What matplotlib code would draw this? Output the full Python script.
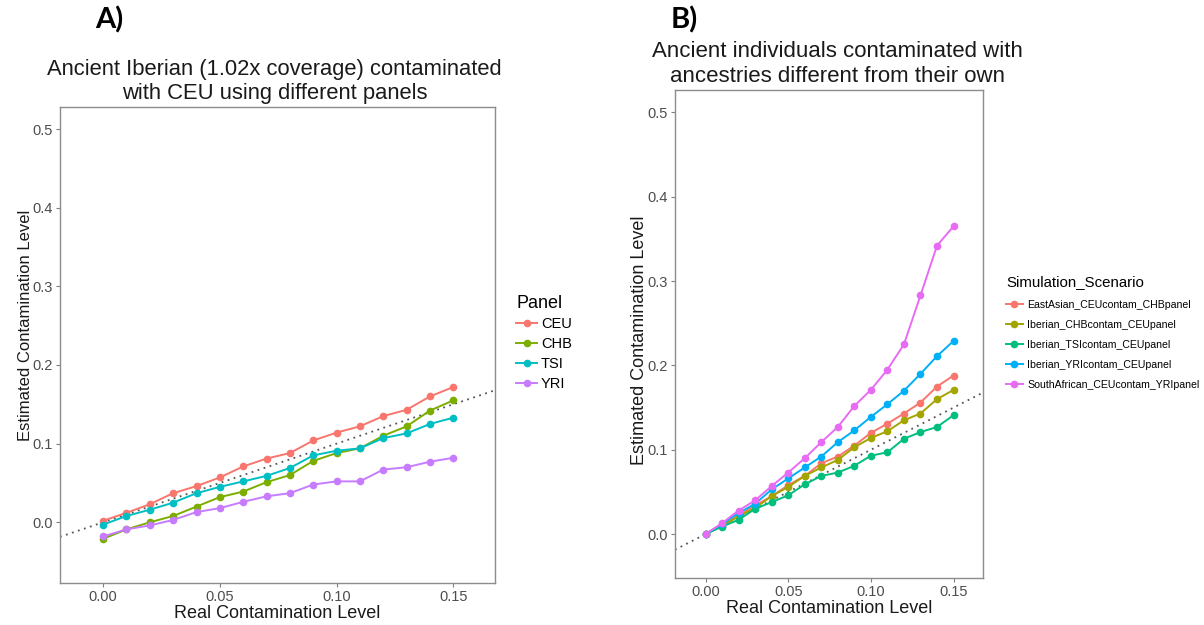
import matplotlib
matplotlib.use("Agg")
import matplotlib.pyplot as plt

plt.rcParams["font.family"] = ["Liberation Sans", "DejaVu Sans"]

# --- data ---
real = [0.00, 0.01, 0.02, 0.03, 0.04, 0.05, 0.06, 0.07,
        0.08, 0.09, 0.10, 0.11, 0.12, 0.13, 0.14, 0.15]

# panel A: Iberian contaminated with CEU, different panels
panel_names = ["CEU", "CHB", "TSI", "YRI"]
ceu = [0.002, 0.012, 0.023, 0.037, 0.046, 0.057, 0.071, 0.081,
       0.088, 0.104, 0.114, 0.122, 0.135, 0.143, 0.160, 0.172]
chb = [-0.021, -0.009, 0.000, 0.008, 0.020, 0.032, 0.039, 0.051,
       0.060, 0.078, 0.088, 0.094, 0.110, 0.122, 0.142, 0.155]
tsi = [-0.003, 0.008, 0.016, 0.025, 0.037, 0.045, 0.052, 0.059,
       0.069, 0.085, 0.091, 0.094, 0.107, 0.113, 0.125, 0.133]
yri = [-0.018, -0.009, -0.004, 0.003, 0.013, 0.018, 0.026, 0.033,
       0.037, 0.048, 0.052, 0.052, 0.067, 0.070, 0.077, 0.082]
panel_vals = [ceu, chb, tsi, yri]
panel_cols = ["#F8766D", "#7CAE00", "#00BFC4", "#C77CFF"]

# panel B: different ancestries
scen_names = ["EastAsian_CEUcontam_CHBpanel", "Iberian_CHBcontam_CEUpanel",
              "Iberian_TSIcontam_CEUpanel", "Iberian_YRIcontam_CEUpanel",
              "SouthAfrican_CEUcontam_YRIpanel"]
east_asian = [0, 0.011, 0.022, 0.034, 0.045, 0.058, 0.069, 0.084,
              0.092, 0.105, 0.120, 0.131, 0.143, 0.156, 0.175, 0.188]
iber_chb = [0, 0.010, 0.021, 0.031, 0.045, 0.056, 0.069, 0.079,
            0.088, 0.103, 0.114, 0.122, 0.135, 0.143, 0.160, 0.171]
iber_tsi = [0, 0.009, 0.017, 0.030, 0.038, 0.046, 0.059, 0.069,
            0.073, 0.081, 0.093, 0.097, 0.113, 0.121, 0.127, 0.141]
iber_yri = [0, 0.012, 0.025, 0.036, 0.053, 0.066, 0.079, 0.092,
            0.109, 0.123, 0.139, 0.154, 0.170, 0.190, 0.211, 0.229]
south_afr = [0, 0.013, 0.028, 0.040, 0.057, 0.073, 0.090, 0.109,
             0.127, 0.152, 0.171, 0.195, 0.225, 0.283, 0.342, 0.365]
scen_vals = [east_asian, iber_chb, iber_tsi, iber_yri, south_afr]
scen_cols = ["#F8766D", "#A3A500", "#00BF7D", "#00B0F6", "#E76BF3"]

xticks = [0.00, 0.05, 0.10, 0.15]
yticks = [0.0, 0.1, 0.2, 0.3, 0.4, 0.5]

fig = plt.figure(figsize=(12.04, 6.25), dpi=100)
ax1 = fig.add_axes([0.0498, 0.0677, 0.3616, 0.7606])
ax2 = fig.add_axes([0.5606, 0.0752, 0.2561, 0.7808])


def style(ax, ylim, ylab_size, ylab_xy):
    ax.set_xlim(-0.0185, 0.168)
    ax.set_ylim(*ylim)
    ax.set_xticks(xticks)
    ax.set_xticklabels(["0.00", "0.05", "0.10", "0.15"])
    ax.set_yticks(yticks)
    ax.set_yticklabels(["0.0", "0.1", "0.2", "0.3", "0.4", "0.5"])
    ax.tick_params(colors="#7f7f7f", labelcolor="#4d4d4d", labelsize=10.5,
                   length=3, width=0.8, pad=2)
    for s in ax.spines.values():
        s.set_color("#8c8c8c")
        s.set_linewidth(1.0)
    ax.axline((0, 0), slope=1, color="#555555", linestyle=(0, (1, 2.5)),
              linewidth=1.3, zorder=1)
    ax.set_xlabel("Real Contamination Level", fontsize=13, color="#1a1a1a", labelpad=1)
    ax.set_ylabel("Estimated Contamination Level", fontsize=ylab_size, color="#1a1a1a")
    ax.yaxis.set_label_coords(*ylab_xy)


style(ax1, (-0.0768, 0.5276), 12, (-0.062, 0.542))
for name, vals, c in zip(panel_names, panel_vals, panel_cols):
    ax1.plot(real, vals, color=c, linewidth=1.4, marker="o", markersize=4.5,
             label=name, zorder=3)
ax1.set_title("Ancient Iberian (1.02x coverage) contaminated\nwith CEU using different panels",
              fontsize=15.8, color="#1a1a1a", pad=6, linespacing=1.2, x=0.493)
leg1 = ax1.legend(loc="upper left", bbox_to_anchor=(0.424, 0.538),
                  bbox_transform=fig.transFigure, frameon=False, title="Panel",
                  fontsize=10.5, title_fontsize=13, handlelength=1.4,
                  handletextpad=0.3, labelspacing=0.4, alignment="left",
                  borderaxespad=0)

style(ax2, (-0.052, 0.5265), 13, (-0.088, 0.488))
for name, vals, c in zip(scen_names, scen_vals, scen_cols):
    ax2.plot(real, vals, color=c, linewidth=1.4, marker="o", markersize=4.5,
             label=name, zorder=3)
ax2.set_title("Ancient individuals contaminated with\nancestries different from their own",
              fontsize=16, color="#1a1a1a", pad=6, linespacing=1.2, x=0.526)
leg2 = ax2.legend(loc="upper left", bbox_to_anchor=(0.832, 0.566),
                  bbox_transform=fig.transFigure, frameon=False,
                  title="Simulation_Scenario", fontsize=7.6, title_fontsize=10.8,
                  handlelength=1.6, handletextpad=0.4, labelspacing=0.95,
                  alignment="left", borderaxespad=0)

fig.text(0.079, 0.968, "A)", fontsize=21, fontweight="bold", ha="left", va="center",
         family=["Lato", "DejaVu Sans"])
fig.text(0.557, 0.968, "B)", fontsize=21, fontweight="bold", ha="left", va="center",
         family=["Lato", "DejaVu Sans"])

fig.savefig("out.png", dpi=100)
